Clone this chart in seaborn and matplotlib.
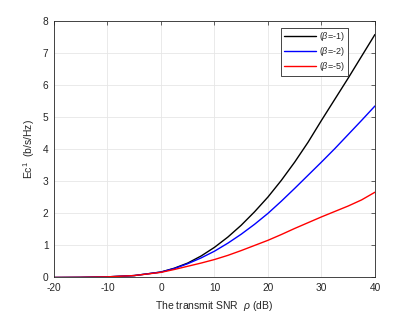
import numpy as np
import pandas as pd
import matplotlib
matplotlib.use("Agg")
import matplotlib.pyplot as plt
import seaborn as sns

snr_db = [-20, -15, -10, -5, 0, 2.5, 5, 7.5, 10, 12.5, 15, 17.5, 20, 22.5, 25, 27.5, 30, 32.5, 35, 37.5, 40]
ec_beta1 = [0.0, 0.005, 0.02, 0.06, 0.17, 0.29, 0.45, 0.67, 0.94, 1.26, 1.63, 2.05, 2.51, 3.03, 3.6, 4.22, 4.9, 5.56, 6.22, 6.9, 7.58]
ec_beta2 = [0.0, 0.005, 0.02, 0.06, 0.17, 0.28, 0.43, 0.61, 0.82, 1.07, 1.35, 1.66, 2.0, 2.38, 2.78, 3.19, 3.6, 4.02, 4.46, 4.9, 5.35]
ec_beta5 = [0.0, 0.005, 0.02, 0.06, 0.16, 0.25, 0.35, 0.45, 0.56, 0.69, 0.84, 1.0, 1.16, 1.34, 1.53, 1.71, 1.89, 2.06, 2.23, 2.42, 2.66]
labels = [r'($\beta$=-1)', r'($\beta$=-2)', r'($\beta$=-5)']
colors = ['#000000', '#0000ff', '#ff0000']

df = pd.concat([
    pd.DataFrame({'snr': snr_db, 'ec': v, 'series': lab})
    for v, lab in zip([ec_beta1, ec_beta2, ec_beta5], labels)
])

sns.set_style("whitegrid")
plt.rcParams['font.family'] = ['Liberation Sans', 'DejaVu Sans']
plt.rcParams['mathtext.fontset'] = 'custom'
plt.rcParams['mathtext.it'] = 'Liberation Sans:italic'
plt.rcParams['mathtext.rm'] = 'Liberation Sans'
plt.rcParams['axes.unicode_minus'] = False

fig = plt.figure(figsize=(4.15, 3.12), dpi=100)
ax = fig.add_axes([0.130, 0.1106, 0.7735, 0.822])
sns.lineplot(data=df, x='snr', y='ec', hue='series', palette=colors,
             linewidth=1.0, ax=ax, sort=True)

ax.set_xlim(-20, 40)
ax.set_ylim(0, 8)
ax.set_xticks(np.arange(-20, 41, 10))
ax.set_yticks(np.arange(0, 9, 1))
ax.grid(True, color='#e6e6e6', linewidth=0.6)
for s in ax.spines.values():
    s.set_color('#262626')
    s.set_linewidth(0.6)
ax.tick_params(direction='in', length=3, width=0.5, labelsize=7.3,
               top=True, right=True, colors='#262626', pad=4)
ax.set_xlabel(r'The transmit SNR  $\rho$ (dB)', fontsize=7.5, color='#262626')
ax.set_ylabel(r'Ec$^1$  (b/s/Hz)', fontsize=7.5, color='#262626')
leg = ax.legend(loc='upper right', bbox_to_anchor=(0.915, 0.974), fontsize=6.5,
                frameon=True, fancybox=False, edgecolor='#262626', framealpha=1,
                borderpad=0.3, handlelength=3.6, labelspacing=0.2,
                handletextpad=0.3, borderaxespad=0.0)
leg.get_frame().set_linewidth(0.6)

fig.savefig('out.png', dpi=100)
